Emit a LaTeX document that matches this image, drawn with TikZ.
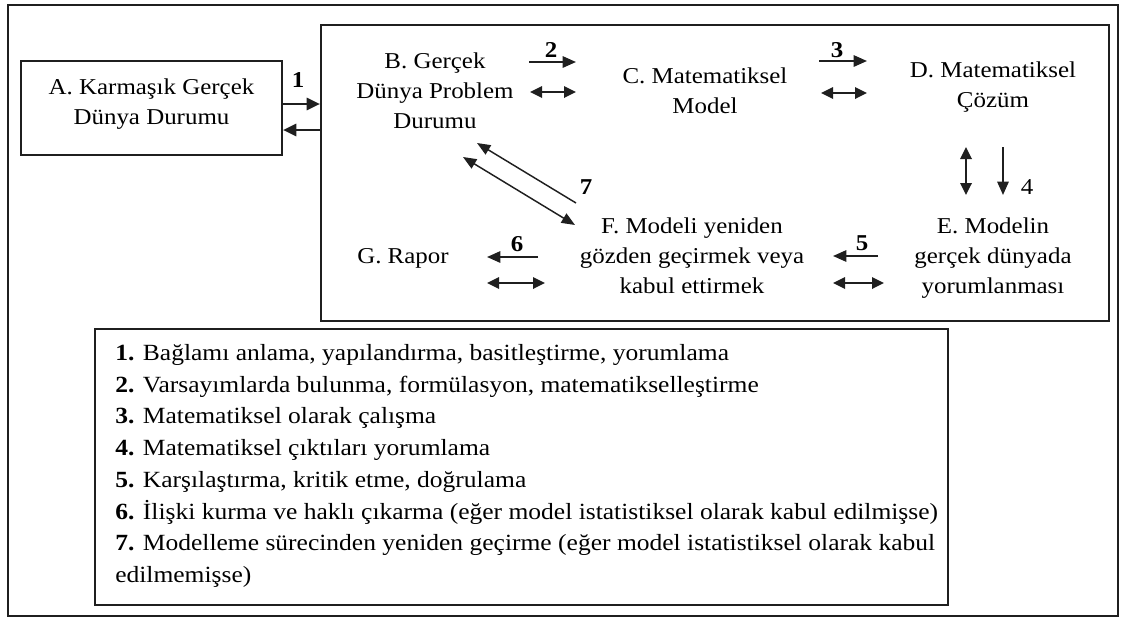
\documentclass[tikz,border=0pt]{standalone}
\usepackage{fontspec}
\setmainfont{Liberation Serif}[FakeStretch=1.1]
\usetikzlibrary{arrows.meta}

\begin{document}
\begin{tikzpicture}[x=0.75pt,y=-0.75pt,
  ink/.style={draw=black!88},
  frame/.style={ink, line width=1.6pt, inner sep=0pt},
  lbl/.style={font=\fontsize{17}{22.5}\selectfont, align=center, inner sep=0pt},
  num/.style={font=\fontsize{17}{20}\selectfont\bfseries, inner sep=0pt},
  plainnum/.style={font=\fontsize{17}{20}\selectfont, inner sep=0pt},
  one/.style={ink, line width=1.4pt, -{Triangle[length=10pt,width=8.5pt]}},
  two/.style={ink, line width=1.7pt, {Triangle[length=9pt,width=8.5pt]}-{Triangle[length=9pt,width=8.5pt]}},
  thin one/.style={ink, line width=1.1pt, -{Triangle[length=10pt,width=8pt]}},
  thin two/.style={ink, line width=1.1pt, {Triangle[length=10pt,width=8pt]}-{Triangle[length=10pt,width=8pt]}},
  thick one/.style={ink, line width=2.1pt, -{Triangle[length=10pt,width=9pt]}},
]
\useasboundingbox (0,0) rectangle (1122,618);

% frames
\node[frame, line width=2pt, minimum width=832.5pt, minimum height=458.25pt] (outer) at (563,310.5) {};
\node[frame, line width=1.5pt, minimum width=591pt, minimum height=222pt] (inner) at (715,173) {};
\node[frame, line width=1.5pt, minimum width=195.75pt, minimum height=70.5pt] (boxA) at (151.5,108) {};
\node[frame, line width=1.5pt, minimum width=639.75pt, minimum height=207pt] (legend) at (521.5,467) {};

% stage labels
\node[lbl] (A) at (151.5,104) {A. Karmaşık Gerçek\\Dünya Durumu};
\node[lbl] (B) at (435,91) {B. Gerçek\\Dünya Problem\\Durumu};
\node[lbl] (C) at (705,91) {C. Matematiksel\\Model};
\node[lbl] (D) at (993,87) {D. Matematiksel\\Çözüm};
\node[lbl] (E) at (993,258) {E. Modelin\\gerçek dünyada\\yorumlanması};
\node[lbl] (F) at (692,256) {F. Modeli yeniden\\gözden geçirmek veya\\kabul ettirmek};
\node[lbl] (G) at (403,258) {G. Rapor};

% step 1: A <-> inner frame
\draw[thick one] ([yshift=3pt]boxA.east) -- ([yshift=3pt]boxA.east -| inner.west);
\draw[thick one] ([yshift=-16.5pt]boxA.east -| inner.west) -- ([yshift=-16.5pt]boxA.east);
\node[num] (n1) at (298,80) {1};

% step 2: B -> C
\coordinate (s2a) at (529,62);  \coordinate (s2b) at (576,62);
\coordinate (d2a) at (530,92);  \coordinate (d2b) at (576,92);
\draw[one] (s2a) -- (s2b);
\draw[two] (d2a) -- (d2b);
\node[num] (n2) at (551,50) {2};

% step 3: C -> D
\coordinate (s3a) at (819,61);  \coordinate (s3b) at (867,61);
\coordinate (d3a) at (821,93);  \coordinate (d3b) at (867,93);
\draw[one] (s3a) -- (s3b);
\draw[two] (d3a) -- (d3b);
\node[num] (n3) at (837,50) {3};

% step 4: D -> E
\coordinate (d4a) at (966,147); \coordinate (d4b) at (966,195);
\coordinate (s4a) at (1003,147); \coordinate (s4b) at (1003,195);
\draw[two] (d4a) -- (d4b);
\draw[one] (s4a) -- (s4b);
\node[plainnum] (n4) at (1027,187) {4};

% step 5: E -> F
\coordinate (s5a) at (878,256); \coordinate (s5b) at (833,256);
\coordinate (d5a) at (833,283); \coordinate (d5b) at (884,283);
\draw[one] (s5a) -- (s5b);
\draw[two] (d5a) -- (d5b);
\node[num] (n5) at (862,243) {5};

% step 6: F -> G
\coordinate (s6a) at (538,257); \coordinate (s6b) at (487,257);
\coordinate (d6a) at (487,283); \coordinate (d6b) at (545,283);
\draw[one] (s6a) -- (s6b);
\draw[two] (d6a) -- (d6b);
\node[num] (n6) at (517,244) {6};

% step 7: F -> B
\coordinate (s7a) at (576,203); \coordinate (s7b) at (477,143);
\coordinate (d7a) at (463,157); \coordinate (d7b) at (575,225);
\draw[thin one] (s7a) -- (s7b);
\draw[thin two] (d7a) -- (d7b);
\node[num] (n7) at (586,187) {7};

% key to the steps
\node[anchor=north west, align=left, inner sep=0pt,
      font=\fontsize{17.4}{23.8}\selectfont] (key) at (115,344) {%
\textbf{1.} Bağlamı anlama, yapılandırma, basitleştirme, yorumlama\\
\textbf{2.} Varsayımlarda bulunma, formülasyon, matematikselleştirme\\
\textbf{3.} Matematiksel olarak çalışma\\
\textbf{4.} Matematiksel çıktıları yorumlama\\
\textbf{5.} Karşılaştırma, kritik etme, doğrulama\\
\textbf{6.} İlişki kurma ve haklı çıkarma (eğer model istatistiksel olarak kabul edilmişse)\\
\textbf{7.} Modelleme sürecinden yeniden geçirme (eğer model istatistiksel olarak kabul\\
edilmemişse)};
\end{tikzpicture}
\end{document}
